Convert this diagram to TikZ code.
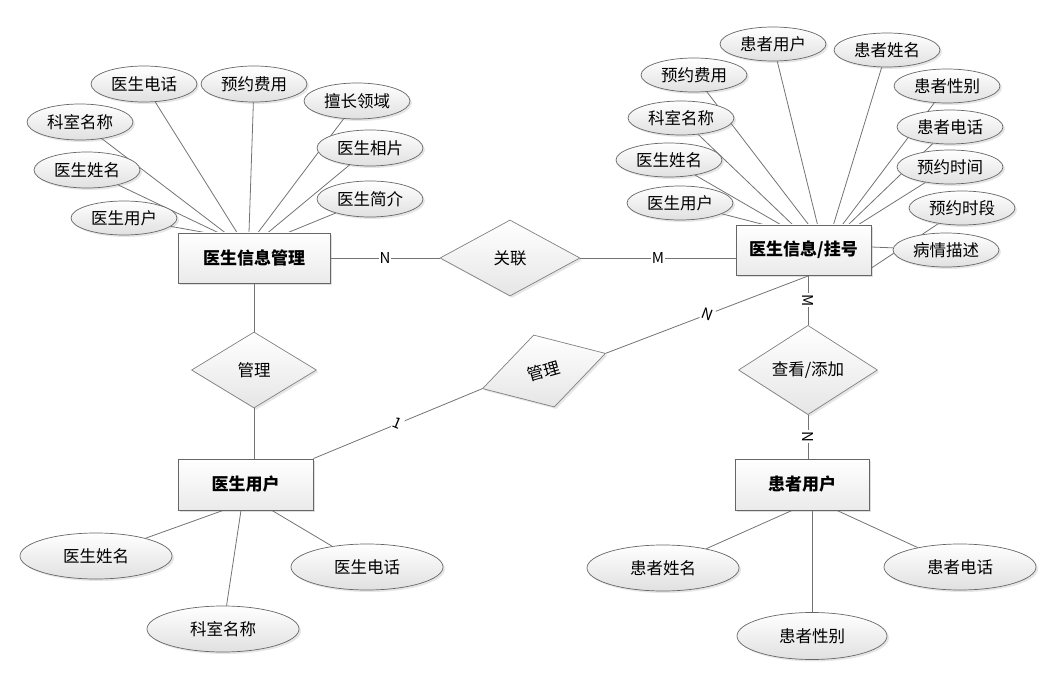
\documentclass[tikz,border=0pt]{standalone}
\usepackage{fontspec}
\setmainfont{Noto Sans CJK SC}
\usepackage{tikz}
\usetikzlibrary{shapes.geometric,shadows,backgrounds}

\begin{document}
\begin{tikzpicture}[x=1pt,y=1pt,yscale=-1,xscale=1,
  line/.style={draw=black!55,line width=0.8pt},
  ent/.style={draw=black!60,line width=0.9pt,top color=white,bottom color=black!8,
    drop shadow={shadow xshift=2pt,shadow yshift=-2pt,opacity=0.25},
    minimum width=135pt,minimum height=50pt,inner sep=0pt,
    font=\fontsize{17}{20}\selectfont\bfseries},
  attr/.style={ellipse,draw=black!60,line width=0.7pt,top color=white,bottom color=black!12,
    drop shadow={shadow xshift=2pt,shadow yshift=-2pt,opacity=0.2},
    minimum width=106pt,minimum height=34pt,inner sep=0pt,
    font=\fontsize{16.5}{20}\selectfont},
  bigattr/.style={attr,minimum width=152pt,minimum height=46pt},
  relshape/.style={diamond,draw=black!50,line width=0.7pt,top color=white,bottom color=black!10,
    drop shadow={shadow xshift=2pt,shadow yshift=-2pt,opacity=0.2},
    inner sep=0pt,font=\fontsize{16.5}{20}\selectfont},
  card/.style={fill=white,inner sep=1pt,font=\fontsize{15}{18}\selectfont}]
\useasboundingbox (0,0) rectangle (1045,687);

%Entities
\node [ent,minimum width=152pt] (mgr) at (254,258) {医生信息管理};
\node [ent] (reg) at (803.5,250) {医生信息/挂号};
\node [ent,minimum height=51pt] (docu) at (245.5,484.5) {医生用户};
\node [ent,minimum height=51pt,minimum width=134pt] (patu) at (802,484.5) {患者用户};

%Relations
\node [relshape,minimum width=140pt,minimum height=76pt] (link) at (510,258) {关联};
\node [relshape,minimum width=125pt,minimum height=76pt] (mngA) at (254,370) {管理};
\node [relshape,minimum width=128pt,minimum height=75pt,rotate=16] (mngB) at (544,371) {管理};
\node [relshape,minimum width=139pt,minimum height=75pt] (view) at (808,370) {查看/添加};

%Attributes of mgr
\node [attr,minimum height=36pt] (ma1) at (144,84) {医生电话};
\node [attr,minimum height=36pt] (ma2) at (254,84) {预约费用};
\node [attr,minimum height=36pt] (ma3) at (357,101) {擅长领域};
\node [attr,minimum height=36pt] (ma4) at (370,148) {医生相片};
\node [attr,minimum height=36pt] (ma5) at (370,199) {医生简介};
\node [attr,minimum height=36pt] (ma6) at (80,122) {科室名称};
\node [attr,minimum height=36pt] (ma7) at (87,170) {医生姓名};
\node [attr,minimum height=34pt] (ma8) at (124,218) {医生用户};

%Attributes of reg
\node [attr] (ra1) at (773,44) {患者用户};
\node [attr] (ra2) at (887,50) {患者姓名};
\node [attr] (ra3) at (694,75) {预约费用};
\node [attr] (ra4) at (947,86) {患者性别};
\node [attr] (ra5) at (681,118) {科室名称};
\node [attr] (ra6) at (950,127) {患者电话};
\node [attr] (ra7) at (669,160) {医生姓名};
\node [attr] (ra8) at (950,167) {预约时间};
\node [attr] (ra9) at (680,203) {医生用户};
\node [attr] (ra10) at (962,208) {预约时段};
\node [attr] (ra11) at (946,250) {病情描述};

%Attributes of docu and patu
\node [bigattr] (da1) at (96,556) {医生姓名};
\node [bigattr] (da2) at (223,629) {科室名称};
\node [bigattr] (da3) at (367,567) {医生电话};
\node [bigattr] (pa1) at (663,568) {患者姓名};
\node [bigattr,minimum width=150pt,minimum height=47pt] (pa2) at (812,636) {患者性别};
\node [bigattr] (pa3) at (960,567) {患者电话};

\begin{scope}[on background layer]
%Relation lines
\draw [line] (mgr.east) -- node [card] {N} (link.west);
\draw [line] (link.east) -- node [card] {M} (link.east -| reg.west);
\draw [line] ([xshift=4.5pt]reg.south) -- node [card,rotate=-90] {M} (view.north);
\draw [line] (view.south) -- node [card,rotate=-90] {N} (view.south |- patu.north);
\draw [line] (mgr.south) -- (mngA.north);
\draw [line] (mngA.south) -- (mngA.south |- docu.north);
\draw [line] (docu.north east) -- node [card,sloped] {1} (mngB.west);
\draw [line] (mngB.east) -- node [card,sloped] {N} ([xshift=6pt]reg.south);

%Attribute lines
\draw [line] (ma1) -- ([xshift=-17pt]mgr.north);
\draw [line] (ma2) -- ([xshift=-5pt]mgr.north);
\draw [line] (ma3) -- ([xshift=4pt]mgr.north);
\draw [line] (ma4) -- ([xshift=14pt]mgr.north);
\draw [line] (ma5) -- ([xshift=34pt]mgr.north);
\draw [line] (ma6) -- ([xshift=-29pt]mgr.north);
\draw [line] (ma7) -- ([xshift=-36pt]mgr.north);
\draw [line] (ma8) -- ([xshift=-49pt]mgr.north);

\draw [line] (ra1) -- ([xshift=14pt]reg.north);
\draw [line] (ra2) -- ([xshift=30pt]reg.north);
\draw [line] (ra3) -- ([xshift=5pt]reg.north);
\draw [line] (ra4) -- ([xshift=39pt]reg.north);
\draw [line] (ra5) -- ([xshift=-11pt]reg.north);
\draw [line] (ra6) -- ([xshift=45pt]reg.north);
\draw [line] (ra7) -- ([xshift=-23pt]reg.north);
\draw [line] (ra8) -- ([xshift=55pt]reg.north);
\draw [line] (ra9) -- ([xshift=-40pt]reg.north);
\draw [line] (ra10) -- ([yshift=18pt]reg.east);
\draw [line] (ra11) -- ([yshift=-3pt]reg.east);

\draw [line] (da1) -- ([xshift=-22.5pt]docu.south);
\draw [line] (da2) -- ([xshift=-4.5pt]docu.south);
\draw [line] (da3) -- ([xshift=26.5pt]docu.south);
\draw [line] (pa1) -- ([xshift=-10pt]patu.south);
\draw [line] (pa2) -- ([xshift=10pt]patu.south);
\draw [line] (pa3) -- ([xshift=35pt]patu.south);
\end{scope}

\end{tikzpicture}
\end{document}
